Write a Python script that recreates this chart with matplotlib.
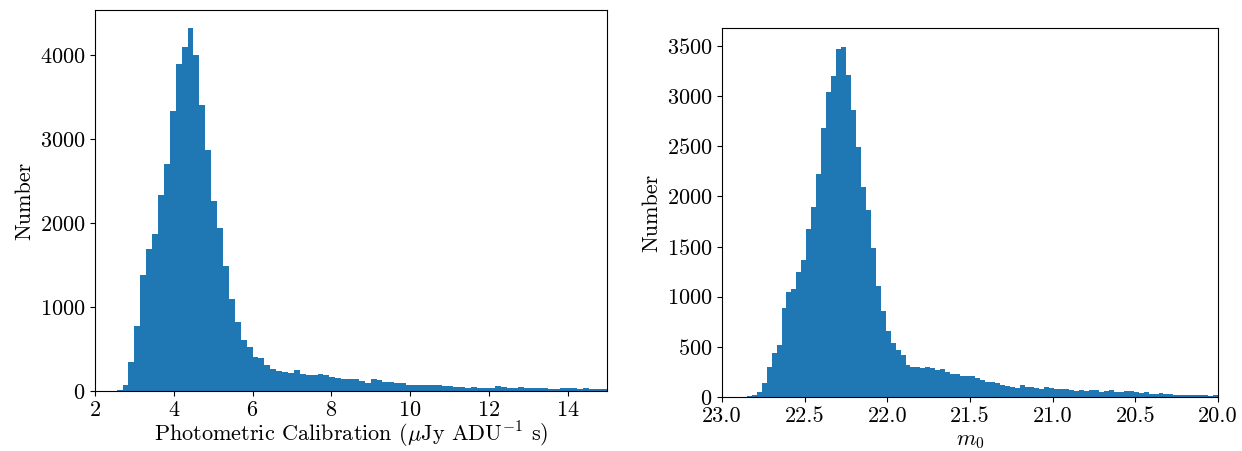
import numpy as np
import matplotlib
matplotlib.use("Agg")
from matplotlib import pyplot as plt

plt.rcParams['font.family'] = 'serif'
plt.rcParams['font.serif'] = ['cmr10']
plt.rcParams['mathtext.fontset'] = 'cm'
plt.rcParams['axes.formatter.use_mathtext'] = True
plt.rcParams['font.size'] = 16

# photometric calibration histogram, bins of 0.15 starting at 2.55
calib_start = 2.55
calib_width = 0.15
calib_counts = [12, 71, 345, 774, 1381, 1690, 1869, 2333, 2702, 3333,
                3893, 4095, 4321, 4000, 3405, 2869, 2262, 1940, 1488, 1095,
                821, 607, 524, 405, 393, 310, 262, 240, 228, 214,
                250, 202, 190, 190, 202, 190, 167, 155, 143, 143,
                143, 119, 95, 143, 131, 107, 107, 95, 95, 71,
                71, 71, 71, 71, 71, 60, 60, 48, 48, 36,
                48, 36, 36, 36, 60, 48, 36, 36, 48, 36,
                36, 36, 36, 24, 24, 36, 36, 36, 24, 36,
                24, 24, 24]

# zero-point magnitude histogram, 100 bins from 23.0 down to 20.0
m0_range = (20.0, 23.0)
m0_counts = [0, 0, 0, 0, 3, 13, 23, 53, 142, 301,
             440, 520, 887, 1046, 1076, 1245, 1364, 1672, 1891, 2228,
             2685, 3043, 3202, 3470, 3490, 3212, 2864, 2497, 2089, 1861,
             1483, 1106, 857, 658, 538, 468, 419, 319, 299, 299,
             289, 299, 289, 269, 279, 249, 229, 229, 209, 209,
             209, 189, 169, 150, 150, 140, 120, 110, 100, 90,
             120, 100, 100, 90, 80, 100, 90, 80, 80, 80,
             70, 60, 70, 60, 70, 70, 50, 60, 70, 50,
             50, 60, 60, 50, 40, 50, 30, 30, 40, 30,
             30, 20, 20, 20, 20, 20, 20, 20, 10, 20]

fig = plt.figure(figsize=(12.42, 4.51), dpi=100)
ax1 = fig.add_axes([0.0765, 0.1330, 0.4122, 0.8448])
ax2 = fig.add_axes([0.5813, 0.1197, 0.3994, 0.8182])

edges1 = calib_start + calib_width * np.arange(len(calib_counts) + 1)
centers1 = 0.5 * (edges1[:-1] + edges1[1:])
ax1.hist(centers1, bins=edges1, weights=calib_counts, color='C0')
ax1.set_xlim(2, 15)
ax1.set_ylim(0, 4536)
ax1.set_xlabel(r'Photometric Calibration ($\mu$Jy ADU$^{-1}$ s)', labelpad=0)
ax1.set_ylabel('Number')

# m0 counts are listed from the faint end (23.0) toward 20.0
edges2 = np.linspace(m0_range[0], m0_range[1], len(m0_counts) + 1)
centers2 = 0.5 * (edges2[:-1] + edges2[1:])
ax2.hist(centers2, bins=edges2, weights=m0_counts[::-1], color='C0')
ax2.set_xlim(23, 20)
ax2.set_ylim(0, 3679)
ax2.set_xticks([23.0, 22.5, 22.0, 21.5, 21.0, 20.5, 20.0])
ax2.set_xticklabels(['23.0', '22.5', '22.0', '21.5', '21.0', '20.5', '20.0'])
ax2.set_xlabel(r'$m_0$')
ax2.set_ylabel('Number')

fig.savefig('out.png', dpi=100)
